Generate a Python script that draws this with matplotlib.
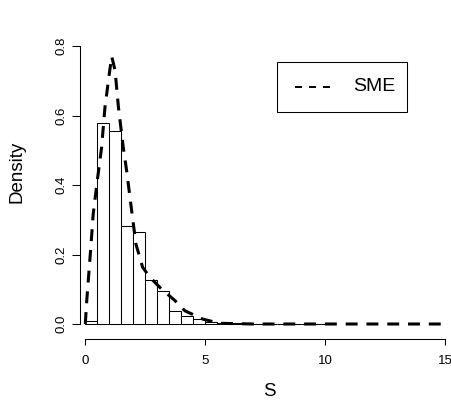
import matplotlib
matplotlib.use("Agg")
import matplotlib.pyplot as plt
from matplotlib.patches import Rectangle
from matplotlib.lines import Line2D
import numpy as np

plt.rcParams['font.family'] = ['Liberation Sans', 'DejaVu Sans']

# histogram of S (bin width 0.5)
bin_edges = np.arange(0, 10.5, 0.5)
density = [0.008, 0.579, 0.555, 0.282, 0.265, 0.128, 0.094, 0.036, 0.022, 0.0135,
           0.006, 0.003, 0.002, 0.0015, 0.001, 0.001, 0.0008, 0.0006, 0.0005, 0.0004]

# SME density curve
sme_x = [0, 0.06, 0.24, 0.33, 0.5, 0.68, 0.82, 1.0, 1.1, 1.24, 1.38, 1.58, 1.72,
         1.93, 2.11, 2.39, 2.7, 3.11, 3.74, 4.15, 4.9, 5.6, 7, 15]
sme_y = [0, 0.067, 0.23, 0.317, 0.413, 0.509, 0.624, 0.72, 0.77, 0.73, 0.624, 0.509,
         0.442, 0.327, 0.23, 0.163, 0.134, 0.105, 0.067, 0.038, 0.014, 0.002, 0, 0]

xticks = [0, 5, 10, 15]
yticks = [0.0, 0.2, 0.4, 0.6, 0.8]

W, H = 452, 408
fig = plt.figure(figsize=(W / 100, H / 100), dpi=100)

# pixel layout (from top-left)
ax_l, ax_r, ax_t, ax_b = 80, 452, 30, 339
ax = fig.add_axes([ax_l / W, 1 - ax_b / H, (ax_r - ax_l) / W, (ax_b - ax_t) / H])

px_per_x = 24.0
px_per_y = 347.5
x0_px, y0_px = 85.3, 324.0
ax.set_xlim((ax_l - x0_px) / px_per_x, (ax_r - x0_px) / px_per_x)
ax.set_ylim((y0_px - ax_b) / px_per_y, (y0_px - ax_t) / px_per_y)

ax.bar(bin_edges[:-1], density, width=0.5, align='edge', facecolor='white',
       edgecolor='black', linewidth=0.75)
ax.plot(sme_x, sme_y, color='black', linewidth=2.2, linestyle=(0, (3.9, 2.9)),
        dash_capstyle='butt')

for s in ['top', 'right']:
    ax.spines[s].set_visible(False)
ax.spines['left'].set_bounds(0, 0.8)
ax.spines['bottom'].set_bounds(0, 15)
for s in ['left', 'bottom']:
    ax.spines[s].set_linewidth(0.75)

ax.set_xticks(xticks)
ax.set_xticklabels([str(t) for t in xticks])
ax.set_yticks(yticks)
ax.set_yticklabels(['%.1f' % t for t in yticks], rotation=90, va='center')
ax.tick_params(axis='x', length=4.5, width=0.75, pad=7, labelsize=9.5)
ax.tick_params(axis='y', length=6, width=0.75, pad=3, labelsize=9.5)

fig.text(269.7 / W, 1 - 392 / H, 'S', ha='center', va='center', fontsize=13.5)
fig.text(17.5 / W, 1 - 171.5 / H, 'Density', ha='center', va='center',
         rotation=90, fontsize=13.5)

# legend box
def fx(px):
    return px / W

def fy(py):
    return 1 - py / H

fig.add_artist(Rectangle((fx(277.3), fy(111.7)), fx(406.7) - fx(277.3), fy(61.7) - fy(111.7),
                         transform=fig.transFigure, facecolor='white',
                         edgecolor='black', linewidth=0.75))
fig.add_artist(Line2D([fx(295), fx(330)], [fy(86.7), fy(86.7)], transform=fig.transFigure,
                      color='black', linewidth=1.4, linestyle=(0, (3.6, 3.6)),
                      dash_capstyle='butt'))
fig.text(fx(352.7), fy(86.7), 'SME', ha='left', va='center', fontsize=14)

fig.savefig('out.png', dpi=100)
